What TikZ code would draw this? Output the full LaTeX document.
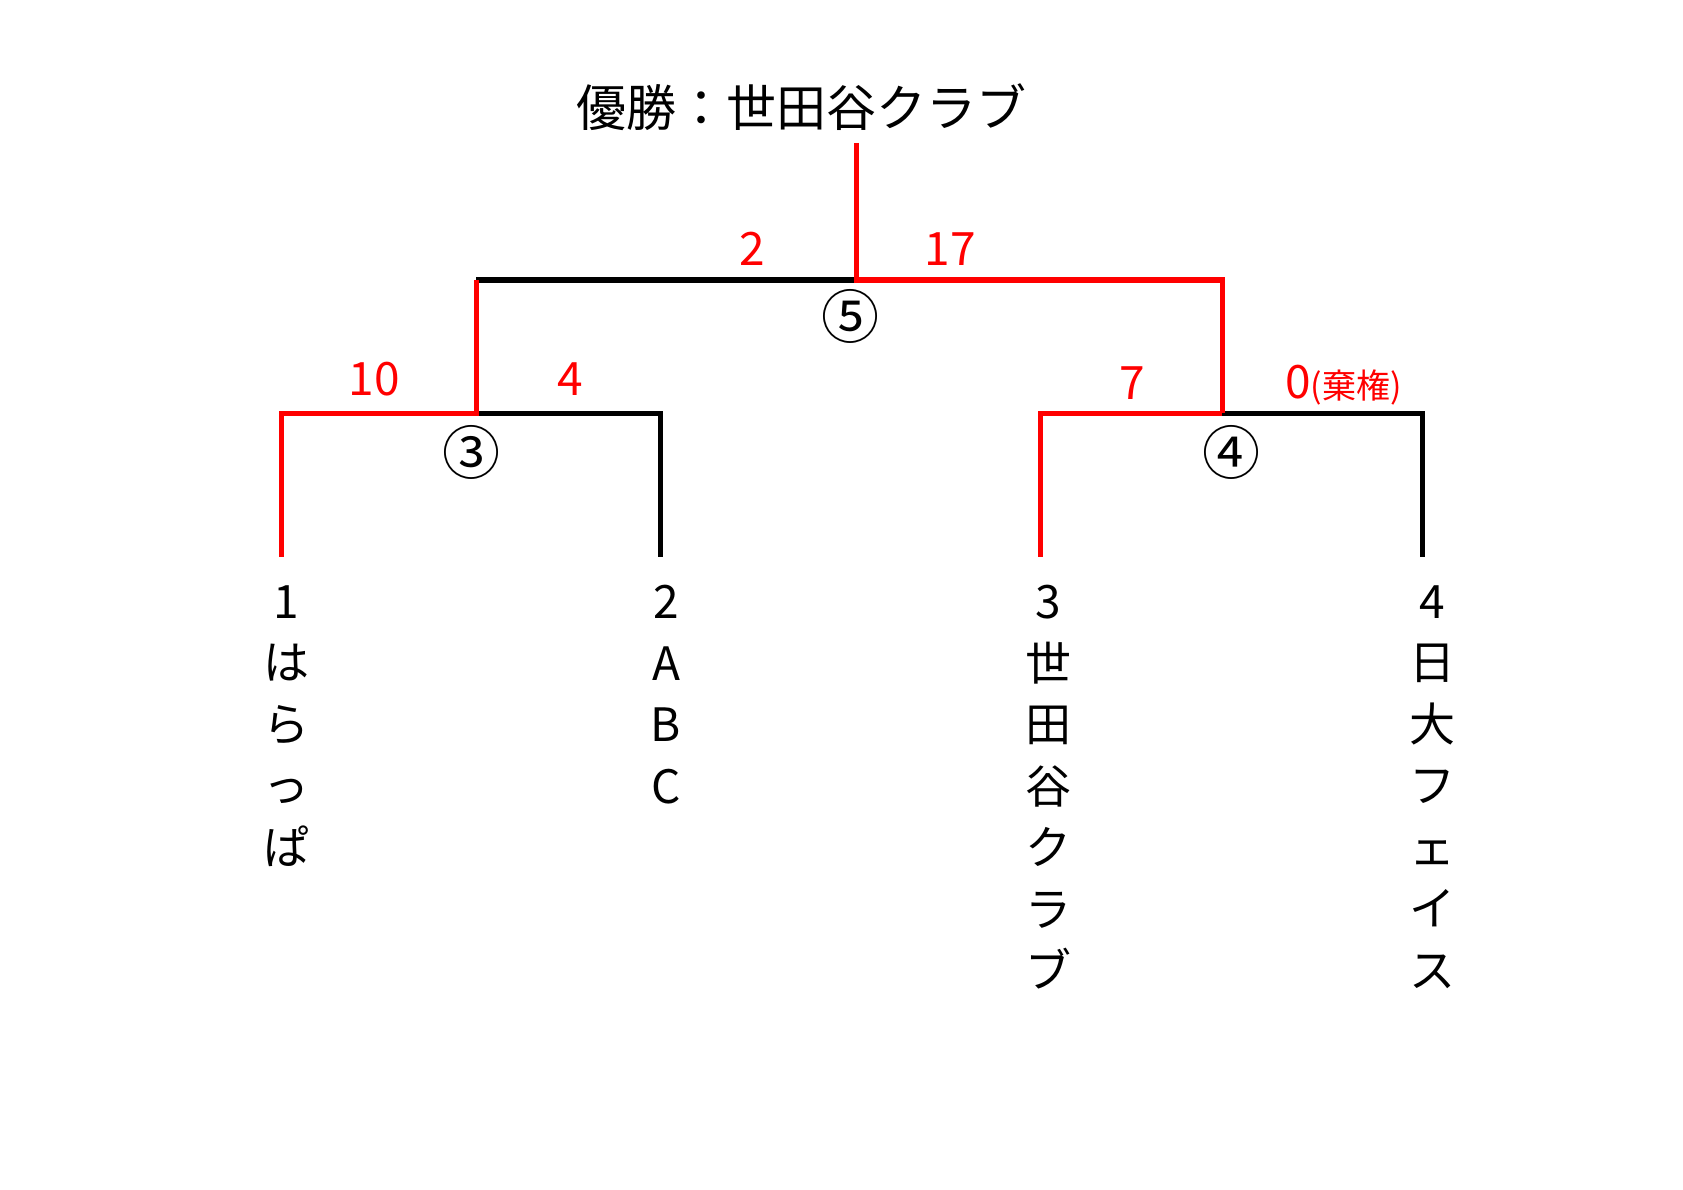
\documentclass[tikz,border=0pt]{standalone}
\usepackage{fontspec}
\setmainfont{Noto Sans CJK JP}
\begin{document}
\begin{tikzpicture}[x=1pt,y=-1pt,
  win/.style={draw=red,line width=5pt},
  lose/.style={draw=black,line width=5pt},
  score/.style={text=red,font=\fontsize{46}{46}\selectfont,inner sep=0},
  circ/.style={font=\fontsize{58}{58}\selectfont,inner sep=0},
  team/.style={font=\fontsize{46}{61.5}\selectfont,inner sep=0,align=center,anchor=north}]
\useasboundingbox (0,0) rectangle (1683,1190);
\node[font=\fontsize{50}{50}\selectfont,inner sep=0] (title) at (801,107) {優勝：世田谷クラブ};
\coordinate (top) at (856,143);
\coordinate (m5) at (856,280);
\coordinate (l5) at (476,280);
\coordinate (r5) at (1222,280);
\coordinate (m3) at (476,413);
\coordinate (m4) at (1222,413);
\coordinate (a1) at (281,413); \coordinate (b1) at (281,557);
\coordinate (a2) at (660,413); \coordinate (b2) at (660,557);
\coordinate (a3) at (1040,413); \coordinate (b3) at (1040,557);
\coordinate (a4) at (1422,413); \coordinate (b4) at (1422,557);
\draw[lose] (l5) -- (m5);
\draw[lose] (m3) -- (a2) -- (b2);
\draw[lose] (m4) -- (a4) -- (b4);
\draw[win] (top) -- (m5) -- (r5) -- (m4);
\draw[win] (l5) -- (m3) -- (a1) -- (b1);
\draw[win] (m4) -- (a3) -- (b3);
\node[circ] (c5) at (850,316) {⑤};
\node[circ] (c3) at (471,452) {③};
\node[circ] (c4) at (1231,452) {④};
\node[score] (s1) at (752,249) {2};
\node[score] (s2) at (950,249) {17};
\node[score] (s3) at (374,379) {10};
\node[score] (s4) at (570,379) {4};
\node[score] (s5) at (1132,383) {7};
\node[score,anchor=west] (s6) at (1285,385) {0\fontsize{34}{34}\selectfont(棄権)};
\node[team] (t1) at (286,585) {1\\は\\ら\\っ\\ぱ};
\node[team] (t2) at (666,585) {2\\A\\B\\C};
\node[team] (t3) at (1048,585) {3\\世\\田\\谷\\ク\\ラ\\ブ};
\node[team] (t4) at (1432,585) {4\\日\\大\\フ\\ェ\\イ\\ス};
\end{tikzpicture}
\end{document}
